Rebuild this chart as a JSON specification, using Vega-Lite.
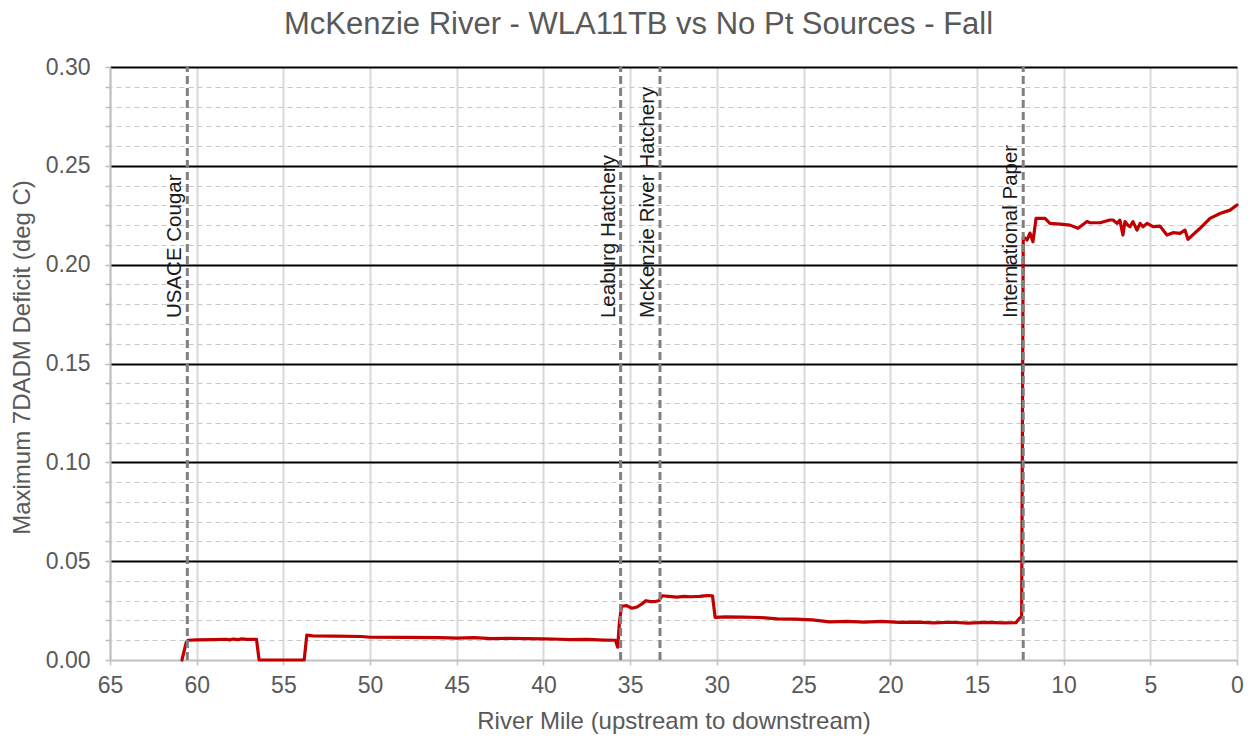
{
  "$schema": "https://vega.github.io/schema/vega-lite/v6.json",
  "width": 1127,
  "height": 593,
  "autosize": "none",
  "padding": {"left": 110, "top": 67, "right": 18, "bottom": 80},
  "background": "white",
  "config": {
    "view": {"stroke": null},
    "font": "Liberation Sans"
  },
  "title": {
    "text": "McKenzie River - WLA11TB vs No Pt Sources - Fall",
    "fontSize": 31,
    "fontWeight": "normal",
    "color": "#595959",
    "font": "Liberation Sans",
    "anchor": "middle",
    "frame": "group",
    "dx": -35,
    "offset": 15
  },
  "datasets": {
    "series": [
      {"mile": 60.85, "deficit": 0.0},
      {"mile": 60.6, "deficit": 0.009},
      {"mile": 60.5, "deficit": 0.0100},
      {"mile": 60.0, "deficit": 0.0102},
      {"mile": 59.0, "deficit": 0.0103},
      {"mile": 58.3, "deficit": 0.0105},
      {"mile": 58.1, "deficit": 0.0102},
      {"mile": 57.9, "deficit": 0.0106},
      {"mile": 57.6, "deficit": 0.0103},
      {"mile": 57.4, "deficit": 0.0107},
      {"mile": 57.1, "deficit": 0.0104},
      {"mile": 56.55, "deficit": 0.0104},
      {"mile": 56.4, "deficit": 0.0},
      {"mile": 54.0, "deficit": 0.0},
      {"mile": 53.8, "deficit": 0.0},
      {"mile": 53.65, "deficit": 0.0126},
      {"mile": 53.3, "deficit": 0.0122},
      {"mile": 52.0, "deficit": 0.0121},
      {"mile": 50.5, "deficit": 0.0119},
      {"mile": 50.0, "deficit": 0.0115},
      {"mile": 48.0, "deficit": 0.0114},
      {"mile": 46.0, "deficit": 0.0113},
      {"mile": 45.0, "deficit": 0.0111},
      {"mile": 44.0, "deficit": 0.0113},
      {"mile": 43.0, "deficit": 0.0108},
      {"mile": 42.0, "deficit": 0.0110},
      {"mile": 41.0, "deficit": 0.0108},
      {"mile": 40.0, "deficit": 0.0107},
      {"mile": 39.0, "deficit": 0.0105},
      {"mile": 38.5, "deficit": 0.0103},
      {"mile": 37.5, "deficit": 0.0104},
      {"mile": 36.5, "deficit": 0.0101},
      {"mile": 35.85, "deficit": 0.0100},
      {"mile": 35.72, "deficit": 0.0065},
      {"mile": 35.62, "deficit": 0.019},
      {"mile": 35.5, "deficit": 0.0272},
      {"mile": 35.2, "deficit": 0.0275},
      {"mile": 34.9, "deficit": 0.0262},
      {"mile": 34.6, "deficit": 0.0268},
      {"mile": 34.3, "deficit": 0.0285},
      {"mile": 34.1, "deficit": 0.0300},
      {"mile": 33.8, "deficit": 0.0295},
      {"mile": 33.5, "deficit": 0.0297},
      {"mile": 33.35, "deficit": 0.0300},
      {"mile": 33.15, "deficit": 0.0325},
      {"mile": 32.8, "deficit": 0.0322},
      {"mile": 32.3, "deficit": 0.0318},
      {"mile": 31.9, "deficit": 0.0322},
      {"mile": 31.5, "deficit": 0.0320},
      {"mile": 31.0, "deficit": 0.0322},
      {"mile": 30.6, "deficit": 0.0326},
      {"mile": 30.25, "deficit": 0.0325},
      {"mile": 30.1, "deficit": 0.0216},
      {"mile": 29.5, "deficit": 0.0218},
      {"mile": 28.5, "deficit": 0.0217},
      {"mile": 27.5, "deficit": 0.0215},
      {"mile": 26.5, "deficit": 0.0208},
      {"mile": 25.5, "deficit": 0.0207},
      {"mile": 24.5, "deficit": 0.0203},
      {"mile": 23.5, "deficit": 0.0193},
      {"mile": 22.5, "deficit": 0.0195},
      {"mile": 21.5, "deficit": 0.0192},
      {"mile": 20.5, "deficit": 0.0195},
      {"mile": 19.5, "deficit": 0.0190},
      {"mile": 18.5, "deficit": 0.0192},
      {"mile": 17.5, "deficit": 0.0188},
      {"mile": 16.5, "deficit": 0.0191},
      {"mile": 15.5, "deficit": 0.0187},
      {"mile": 14.5, "deficit": 0.0190},
      {"mile": 13.5, "deficit": 0.0188},
      {"mile": 12.75, "deficit": 0.0189},
      {"mile": 12.55, "deficit": 0.021},
      {"mile": 12.42, "deficit": 0.022},
      {"mile": 12.33, "deficit": 0.2140},
      {"mile": 12.11, "deficit": 0.2125},
      {"mile": 11.94, "deficit": 0.2160},
      {"mile": 11.77, "deficit": 0.2116},
      {"mile": 11.59, "deficit": 0.2234},
      {"mile": 11.07, "deficit": 0.2234},
      {"mile": 10.79, "deficit": 0.2209},
      {"mile": 10.2, "deficit": 0.2205},
      {"mile": 9.63, "deficit": 0.2200},
      {"mile": 9.17, "deficit": 0.2184},
      {"mile": 8.65, "deficit": 0.2218},
      {"mile": 8.48, "deficit": 0.2212},
      {"mile": 7.90, "deficit": 0.2212},
      {"mile": 7.33, "deficit": 0.2226},
      {"mile": 7.15, "deficit": 0.2226},
      {"mile": 6.92, "deficit": 0.2209},
      {"mile": 6.75, "deficit": 0.2225},
      {"mile": 6.58, "deficit": 0.2150},
      {"mile": 6.46, "deficit": 0.2218},
      {"mile": 6.30, "deficit": 0.2200},
      {"mile": 6.17, "deficit": 0.2192},
      {"mile": 6.00, "deficit": 0.2218},
      {"mile": 5.77, "deficit": 0.2175},
      {"mile": 5.59, "deficit": 0.2209},
      {"mile": 5.42, "deficit": 0.2192},
      {"mile": 5.19, "deficit": 0.2209},
      {"mile": 4.84, "deficit": 0.2192},
      {"mile": 4.44, "deficit": 0.2195},
      {"mile": 4.04, "deficit": 0.2150},
      {"mile": 3.69, "deficit": 0.2162},
      {"mile": 3.29, "deficit": 0.2158},
      {"mile": 3.00, "deficit": 0.2175},
      {"mile": 2.83, "deficit": 0.2128},
      {"mile": 2.13, "deficit": 0.2184},
      {"mile": 1.56, "deficit": 0.2234},
      {"mile": 0.98, "deficit": 0.2259},
      {"mile": 0.40, "deficit": 0.2276},
      {"mile": 0.0, "deficit": 0.2302}
    ],
    "sources": [
      {"site": "USACE Cougar", "mile": 60.54},
      {"site": "Leaburg Hatchery", "mile": 35.55},
      {"site": "McKenzie River Hatchery", "mile": 33.28},
      {"site": "International Paper", "mile": 12.33}
    ]
  },
  "layer": [
    {
      "data": {"name": "series"},
      "mark": {"type": "line", "color": "#C00000", "strokeWidth": 3.2, "strokeJoin": "round", "strokeCap": "round"},
      "encoding": {
        "x": {
          "field": "mile",
          "type": "quantitative",
          "scale": {"domain": [0, 65], "reverse": true, "nice": false, "zero": false},
          "axis": {
            "title": "River Mile (upstream to downstream)",
            "values": [0, 5, 10, 15, 20, 25, 30, 35, 40, 45, 50, 55, 60, 65],
            "tickCount": 40,
            "format": "d",
            "labelFontSize": 23,
            "labelColor": "#595959",
            "labelFont": "Liberation Sans",
            "labelPadding": 9,
            "labelFlush": false,
            "tickColor": "#bfbfbf",
            "tickSize": 5,
            "tickWidth": 1.5,
            "domainColor": "#bfbfbf",
            "domainWidth": 2,
            "grid": true,
            "gridColor": "#d9d9d9",
            "gridWidth": 2,
            "titleFontSize": 24,
            "titleFontWeight": "normal",
            "titleColor": "#595959",
            "titleFont": "Liberation Sans",
            "titleX": 563.5,
            "titleY": 61,
            "titleBaseline": "middle",
            "titleAlign": "center"
          }
        },
        "y": {
          "field": "deficit",
          "type": "quantitative",
          "scale": {"domain": [0, 0.3], "nice": false},
          "axis": {
            "title": "Maximum 7DADM Deficit (deg C)",
            "values": [0, 0.01, 0.02, 0.03, 0.04, 0.05, 0.06, 0.07, 0.08, 0.09, 0.1, 0.11, 0.12, 0.13, 0.14, 0.15, 0.16, 0.17, 0.18, 0.19, 0.2, 0.21, 0.22, 0.23, 0.24, 0.25, 0.26, 0.27, 0.28, 0.29, 0.3],
            "tickCount": 100,
            "labelExpr": "round(datum.value*100) % 5 == 0 ? format(datum.value, '.2f') : ''",
            "labelFontSize": 23,
            "labelColor": "#595959",
            "labelFont": "Liberation Sans",
            "labelPadding": 15,
            "labelFlush": false,
            "labelOverlap": false,
            "tickColor": "#bfbfbf",
            "tickSize": 5,
            "tickWidth": 1.5,
            "domainColor": "#bfbfbf",
            "domainWidth": 2,
            "grid": true,
            "gridColor": {"condition": {"test": "datum.value > 0.001 && round(datum.value*100) % 5 == 0", "value": "#000000"}, "value": "#c8c8c8"},
            "gridWidth": {"condition": {"test": "datum.value > 0.001 && round(datum.value*100) % 5 == 0", "value": 2}, "value": 1},
            "gridDash": {"condition": {"test": "datum.value > 0.001 && round(datum.value*100) % 5 == 0", "value": []}, "value": [5, 4]},
            "titleFontSize": 24,
            "titleFontWeight": "normal",
            "titleColor": "#595959",
            "titleFont": "Liberation Sans",
            "titleX": -88,
            "titleY": 290,
            "titleBaseline": "middle",
            "titleAlign": "center",
            "titleAngle": -90
          }
        }
      }
    },
    {
      "data": {"name": "sources"},
      "mark": {"type": "rule", "color": "#808080", "strokeWidth": 3, "strokeDash": [8, 4]},
      "encoding": {
        "x": {"field": "mile", "type": "quantitative"},
        "y": {"datum": 0},
        "y2": {"datum": 0.3}
      }
    },
    {
      "data": {"name": "sources"},
      "mark": {"type": "text", "angle": 270, "align": "left", "baseline": "alphabetic", "dy": -6, "fontSize": 20.5, "color": "#1a1a1a", "font": "Liberation Sans"},
      "encoding": {
        "x": {"field": "mile", "type": "quantitative"},
        "y": {"datum": 0.173},
        "text": {"field": "site"}
      }
    }
  ]
}
